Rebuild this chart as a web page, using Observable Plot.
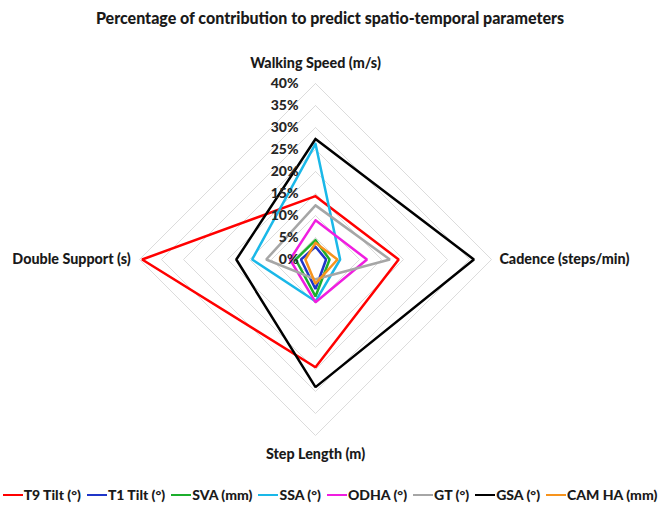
<!DOCTYPE html>
<html>
<head>
<meta charset="utf-8">
<script src="https://cdn.jsdelivr.net/npm/d3@7"></script>
<script src="https://cdn.jsdelivr.net/npm/@observablehq/plot@0.6"></script>
<style>
  html, body { margin: 0; padding: 0; background: #fff; }
  body { width: 660px; height: 508px; overflow: hidden; font-family: Lato, "Open Sans", sans-serif; color: #262626; }
  #title { height: 36px; box-sizing: border-box; padding-top: 9px; line-height: 18px; text-align: center; font-weight: 900; font-size: 16px; color: #1a1a1a; }
  #chart { height: 432px; }
  #legend { height: 40px; box-sizing: border-box; padding-top: 14px; display: flex; justify-content: center; gap: 6px; font-weight: 900; font-size: 14px; line-height: 18px; white-space: nowrap; color: #1a1a1a; }
  #legend .item { display: flex; align-items: center; }
  #legend .sw { display: inline-block; width: 20px; height: 2px; margin-right: 1px; }
</style>
</head>
<body>
<div id="title"></div>
<div id="chart"></div>
<div id="legend"></div>
<script>
const title = "Percentage of contribution to predict spatio-temporal parameters";
const axes = ["Walking Speed (m/s)", "Cadence (steps/min)", "Step Length (m)", "Double Support (s)"];
const seriesNames = ["T9 Tilt (°)", "T1 Tilt (°)", "SVA (mm)", "SSA (°)", "ODHA (°)", "GT (°)", "GSA (°)", "CAM HA (mm)"];
const seriesColors = ["#ff0000", "#1f35c8", "#1cae2c", "#1ab8e8", "#f01ee0", "#a6a6a6", "#000000", "#f7941d"];
// values in % : [Walking Speed, Cadence, Step Length, Double Support]
const t9Tilt = [14.4, 18.9, 24.5, 39.4];
const t1Tilt = [2.9, 2.4, 6.7, 3.3];
const sva    = [4.4, 3.2, 8.4, 4.5];
const ssa    = [26.3, 5.6, 9.5, 14.4];
const odha   = [8.9, 11.7, 9.7, 5.8];
const gt     = [12.3, 16.9, 4.5, 11.2];
const gsa    = [27.4, 36.0, 29.0, 18.0];
const camHa  = [3.8, 5.0, 5.5, 2.3];
const ticks = [0, 5, 10, 15, 20, 25, 30, 35, 40];
const tickLabels = ["0%", "5%", "10%", "15%", "20%", "25%", "30%", "35%", "40%"];

const seriesValues = [t9Tilt, t1Tilt, sva, ssa, odha, gt, gsa, camHa];

document.getElementById("title").textContent = title;

// layout
const W = 660, H = 432, cx = 315, cy = 223, pxPerUnit = 4.4;
const angle = i => i * Math.PI / 2;
const px = (r, i) => r * Math.sin(angle(i));
const py = (r, i) => r * Math.cos(angle(i));

const ringRows = [];
ticks.filter(t => t > 0).forEach(t => {
  for (let i = 0; i <= axes.length; i++) ringRows.push({ring: t, x: px(t, i % axes.length), y: py(t, i % axes.length)});
});

const lineRows = [];
seriesNames.forEach((s, k) => {
  const v = seriesValues[k];
  for (let i = 0; i <= axes.length; i++) {
    const j = i % axes.length;
    lineRows.push({series: s, x: px(v[j], j), y: py(v[j], j)});
  }
});

const tickRows = ticks.map((t, i) => ({x: 0, y: t, label: tickLabels[i]}));

const labelR = [44.6, 41.8, 44.2, 42.0];
const labelAnchor = ["middle", "start", "middle", "end"];
const axisRows = axes.map((a, i) => ({label: a, x: px(labelR[i], i), y: py(labelR[i], i), anchor: labelAnchor[i]}));

const chart = Plot.plot({
  width: W,
  height: H,
  margin: 0,
  style: {background: "transparent", overflow: "visible"},
  x: {domain: [-cx / pxPerUnit, (W - cx) / pxPerUnit], axis: null},
  y: {domain: [-(H - cy) / pxPerUnit, cy / pxPerUnit], axis: null},
  color: {domain: seriesNames, range: seriesColors},
  marks: [
    Plot.line(ringRows, {x: "x", y: "y", z: "ring", stroke: "#dcdcdc", strokeWidth: 1}),
    Plot.line(lineRows, {x: "x", y: "y", z: "series", stroke: "series", strokeWidth: 2.5, strokeLinejoin: "miter", curve: "linear"}),
    Plot.text(tickRows, {x: "x", y: "y", text: "label", textAnchor: "end", dx: -17, fontWeight: 900, fontSize: 14, fill: "#262626", fontFamily: "Lato"}),
    ...axisRows.map(r => Plot.text([r], {x: "x", y: "y", text: "label", textAnchor: r.anchor, fontWeight: 900, fontSize: 14.3, fill: "#1a1a1a", fontFamily: "Lato"}))
  ]
});
document.getElementById("chart").appendChild(chart);

const legend = document.getElementById("legend");
seriesNames.forEach((s, k) => {
  const item = document.createElement("span");
  item.className = "item";
  const sw = document.createElement("span");
  sw.className = "sw";
  sw.style.background = seriesColors[k];
  const tx = document.createElement("span");
  tx.textContent = s;
  item.appendChild(sw);
  item.appendChild(tx);
  legend.appendChild(item);
});
</script>
</body>
</html>
